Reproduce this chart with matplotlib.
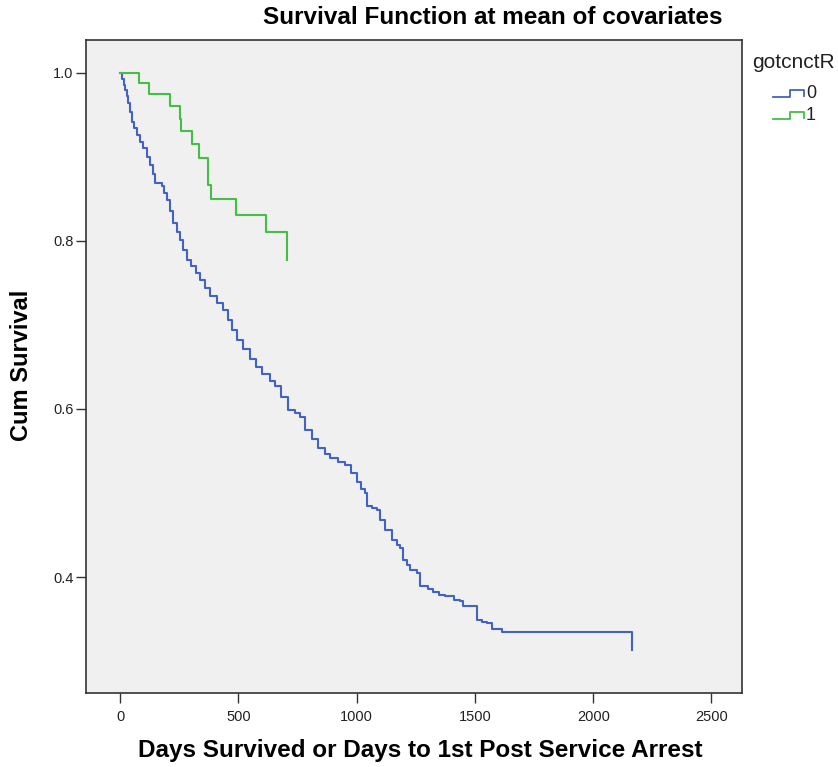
import matplotlib
matplotlib.use("Agg")
import matplotlib.pyplot as plt
from matplotlib.lines import Line2D

plt.rcParams['font.family'] = ['Liberation Sans', 'DejaVu Sans']

# Group 0 (gotcnctR = 0): days, cumulative survival
days0 = [0, 8, 15, 21, 28, 35, 44, 52, 61, 70, 84, 98, 112, 127, 138, 148, 176, 186,
         197, 211, 225, 240, 254, 268, 282, 300, 320, 338, 360, 380, 410, 437, 458,
         475, 493, 520, 550, 575, 600, 634, 655, 680, 711, 740, 761, 782, 810, 838,
         865, 888, 920, 951, 975, 1000, 1020, 1036, 1043, 1065, 1085, 1100, 1120,
         1148, 1170, 1183, 1197, 1212, 1226, 1254, 1268, 1300, 1323, 1350, 1373,
         1410, 1437, 1450, 1496, 1508, 1530, 1550, 1571, 1613, 2163]
surv0 = [1.0, 0.993, 0.986, 0.980, 0.972, 0.964, 0.953, 0.942, 0.934, 0.926, 0.918,
         0.910, 0.900, 0.890, 0.880, 0.869, 0.865, 0.857, 0.849, 0.835, 0.821, 0.811,
         0.801, 0.789, 0.777, 0.770, 0.762, 0.754, 0.744, 0.734, 0.726, 0.718, 0.706,
         0.694, 0.682, 0.671, 0.660, 0.650, 0.642, 0.633, 0.627, 0.614, 0.599, 0.595,
         0.591, 0.575, 0.564, 0.553, 0.546, 0.542, 0.537, 0.533, 0.524, 0.513, 0.505,
         0.500, 0.484, 0.482, 0.480, 0.468, 0.456, 0.444, 0.438, 0.435, 0.420, 0.414,
         0.408, 0.405, 0.389, 0.386, 0.382, 0.379, 0.377, 0.373, 0.371, 0.365, 0.365,
         0.349, 0.347, 0.345, 0.338, 0.334, 0.313]

# Group 1 (gotcnctR = 1)
days1 = [0, 82, 124, 211, 254, 257, 306, 332, 373, 385, 489, 617, 706]
surv1 = [1.0, 0.988, 0.975, 0.961, 0.945, 0.931, 0.915, 0.899, 0.866, 0.850, 0.831,
         0.810, 0.777]

x_ticks = [0, 500, 1000, 1500, 2000, 2500]
y_ticks = [0.4, 0.6, 0.8, 1.0]
groups = ["0", "1"]
colors = ["#4363c2", "#45be45"]

W, H = 838, 767
fig = plt.figure(figsize=(W / 100, H / 100), dpi=100)
fig.patch.set_facecolor("white")
ax = fig.add_axes([86 / W, 1 - 693 / H, (742 - 86) / W, (693 - 40) / H])
ax.set_facecolor("#f0f0f0")

ax.plot(days0, surv0, drawstyle="steps-post", color=colors[0], lw=1.5)
ax.plot(days1, surv1, drawstyle="steps-post", color=colors[1], lw=1.5)

ax.set_xlim(-144, 2629)
ax.set_ylim(0.262, 1.039)
ax.set_xticks(x_ticks)
ax.set_xticklabels([str(t) for t in x_ticks], fontsize=10.5, color="#222222")
ax.set_yticks(y_ticks)
ax.set_yticklabels([f"{t:.1f}" for t in y_ticks], fontsize=10.5, color="#222222")
ax.tick_params(axis="both", direction="out", length=7, width=1, color="#333333")
ax.tick_params(axis="x", pad=5)
ax.tick_params(axis="y", pad=2)
for s in ax.spines.values():
    s.set_color("#333333")
    s.set_linewidth(1.2)

fig.text(493 / W, 1 - 18 / H, "Survival Function at mean of covariates",
         ha="center", va="center", fontsize=17.5, fontweight="bold")
fig.text(420 / W, 1 - 751 / H, "Days Survived or Days to 1st Post Service Arrest",
         ha="center", va="center", fontsize=17.5, fontweight="bold")
fig.text(22 / W, 1 - 365 / H, "Cum Survival", ha="center", va="center",
         rotation=90, fontsize=17, fontweight="bold")

# Legend drawn manually
fig.text(752 / W, 1 - 62 / H, "gotcnctR", ha="left", va="center", fontsize=15,
         color="#222222")
for i, (g, c) in enumerate(zip(groups, colors)):
    yc = 93 + i * 22
    xs = [773, 790, 790, 804, 804]
    ys = [yc + 4, yc + 4, yc - 3, yc - 3, yc + 3]
    fig.add_artist(Line2D([x / W for x in xs], [1 - y / H for y in ys],
                          color=c, lw=1.3, transform=fig.transFigure))
    fig.text(806 / W, 1 - (yc + 1) / H, g, ha="left", va="center", fontsize=13,
             color="#222222")

fig.savefig("out.png", dpi=100, facecolor="white")
